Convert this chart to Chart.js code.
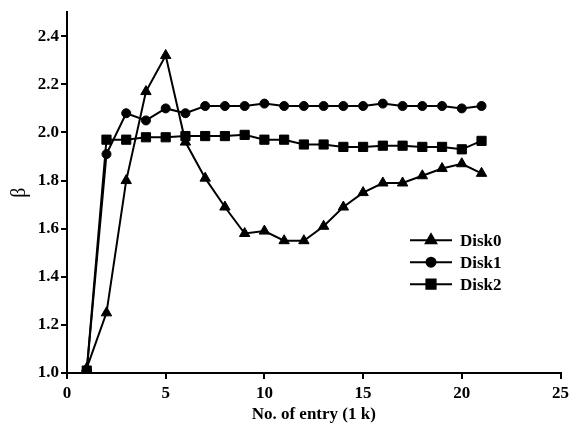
<!DOCTYPE html>
<html>
<head>
<meta charset="utf-8">
<script src="https://cdn.jsdelivr.net/npm/chart.js@4/dist/chart.umd.min.js"></script>
<style>
  html, body { margin: 0; padding: 0; background: #fff; }
  #wrap { width: 573px; height: 435px; }
</style>
</head>
<body>
<div id="wrap"><canvas id="betaChart" width="573" height="435"></canvas></div>
<script>
// valores
const entries = [1, 2, 3, 4, 5, 6, 7, 8, 9, 10, 11, 12, 13, 14, 15, 16, 17, 18, 19, 20, 21];
const disk0 = [1.02, 1.25, 1.80, 2.17, 2.32, 1.96, 1.81, 1.69, 1.58, 1.59, 1.55, 1.55, 1.61, 1.69, 1.75, 1.79, 1.79, 1.82, 1.85, 1.87, 1.83];
const disk1 = [1.01, 1.91, 2.08, 2.05, 2.10, 2.08, 2.11, 2.11, 2.11, 2.12, 2.11, 2.11, 2.11, 2.11, 2.11, 2.12, 2.11, 2.11, 2.11, 2.10, 2.11];
const disk2 = [1.01, 1.97, 1.97, 1.98, 1.98, 1.985, 1.985, 1.985, 1.99, 1.97, 1.97, 1.95, 1.95, 1.94, 1.94, 1.945, 1.945, 1.94, 1.94, 1.93, 1.965];
const seriesNames = ['Disk0', 'Disk1', 'Disk2'];
const xTicks = [0, 5, 10, 15, 20, 25];
const yTicks = [1.0, 1.2, 1.4, 1.6, 1.8, 2.0, 2.2, 2.4];

const fontFamily = '"Liberation Serif", "DejaVu Serif", serif';

function toPoints(values) {
    return entries.map((x, i) => ({ x: x, y: values[i] }));
}

function makeDataset(label, values, style, radius) {
    return {
        label: label,
        data: toPoints(values),
        borderColor: '#000',
        backgroundColor: '#000',
        borderWidth: 2,
        pointStyle: style,
        pointRadius: radius,
        pointBorderWidth: 1,
        tension: 0
    };
}

// legenda desenhada dentro da área do gráfico
const insideLegend = {
    id: 'insideLegend',
    afterDraw(chart) {
        const ctx = chart.ctx;
        const area = chart.chartArea;
        const x0 = area.left + 343;
        const y0 = area.top + 228;
        ctx.save();
        chart.data.datasets.forEach((ds, i) => {
            const y = y0 + i * 22;
            ctx.strokeStyle = '#000';
            ctx.lineWidth = 2;
            ctx.beginPath();
            ctx.moveTo(x0, y);
            ctx.lineTo(x0 + 42, y);
            ctx.stroke();
            ctx.fillStyle = '#000';
            Chart.helpers.drawPoint(ctx, {
                pointStyle: ds.pointStyle,
                radius: ds.pointRadius,
                borderWidth: 1,
                rotation: 0
            }, x0 + 21, y);
            ctx.fill();
            ctx.font = 'bold 17px ' + fontFamily;
            ctx.textBaseline = 'middle';
            ctx.textAlign = 'left';
            ctx.fillText(ds.label, x0 + 50, y + 1);
        });
        ctx.restore();
    }
};

const axisGrid = {
    display: true,
    drawOnChartArea: false,
    drawTicks: true,
    tickLength: 6,
    color: '#000',
    lineWidth: 2
};

const chart = new Chart(document.getElementById('betaChart').getContext('2d'), {
    type: 'line',
    data: {
        datasets: [
            makeDataset(seriesNames[0], disk0, 'triangle', 6),
            makeDataset(seriesNames[1], disk1, 'circle', 4.5),
            makeDataset(seriesNames[2], disk2, 'rect', 6.5)
        ]
    },
    options: {
        responsive: false,
        animation: false,
        layout: { padding: { top: 10, right: 10, left: 8, bottom: 10 } },
        plugins: {
            legend: { display: false },
            tooltip: { enabled: false }
        },
        scales: {
            x: {
                type: 'linear',
                min: 0,
                max: 25,
                afterBuildTicks: scale => { scale.ticks = xTicks.map(v => ({ value: v })); },
                afterFit: scale => { scale.height = 52; },
                grid: axisGrid,
                border: { display: true, color: '#000', width: 2 },
                ticks: {
                    color: '#000',
                    padding: 4,
                    maxRotation: 0,
                    font: { family: fontFamily, size: 17, weight: 'bold' },
                    callback: v => String(v)
                },
                title: {
                    display: true,
                    text: 'No. of entry (1 k)',
                    color: '#000',
                    padding: { top: 2, bottom: 0 },
                    font: { family: fontFamily, size: 17, weight: 'bold' }
                }
            },
            y: {
                type: 'linear',
                min: 1.0,
                max: 2.5,
                afterBuildTicks: scale => { scale.ticks = yTicks.map(v => ({ value: v })); },
                afterFit: scale => { scale.width = 59; },
                grid: axisGrid,
                border: { display: true, color: '#000', width: 2 },
                ticks: {
                    color: '#000',
                    padding: 2,
                    font: { family: fontFamily, size: 17, weight: 'bold' },
                    callback: v => Number(v).toFixed(1)
                },
                title: {
                    display: true,
                    text: 'β',
                    color: '#000',
                    padding: { top: 0, bottom: 4 },
                    font: { family: fontFamily, size: 20 }
                }
            }
        }
    },
    plugins: [insideLegend]
});
</script>
</body>
</html>
